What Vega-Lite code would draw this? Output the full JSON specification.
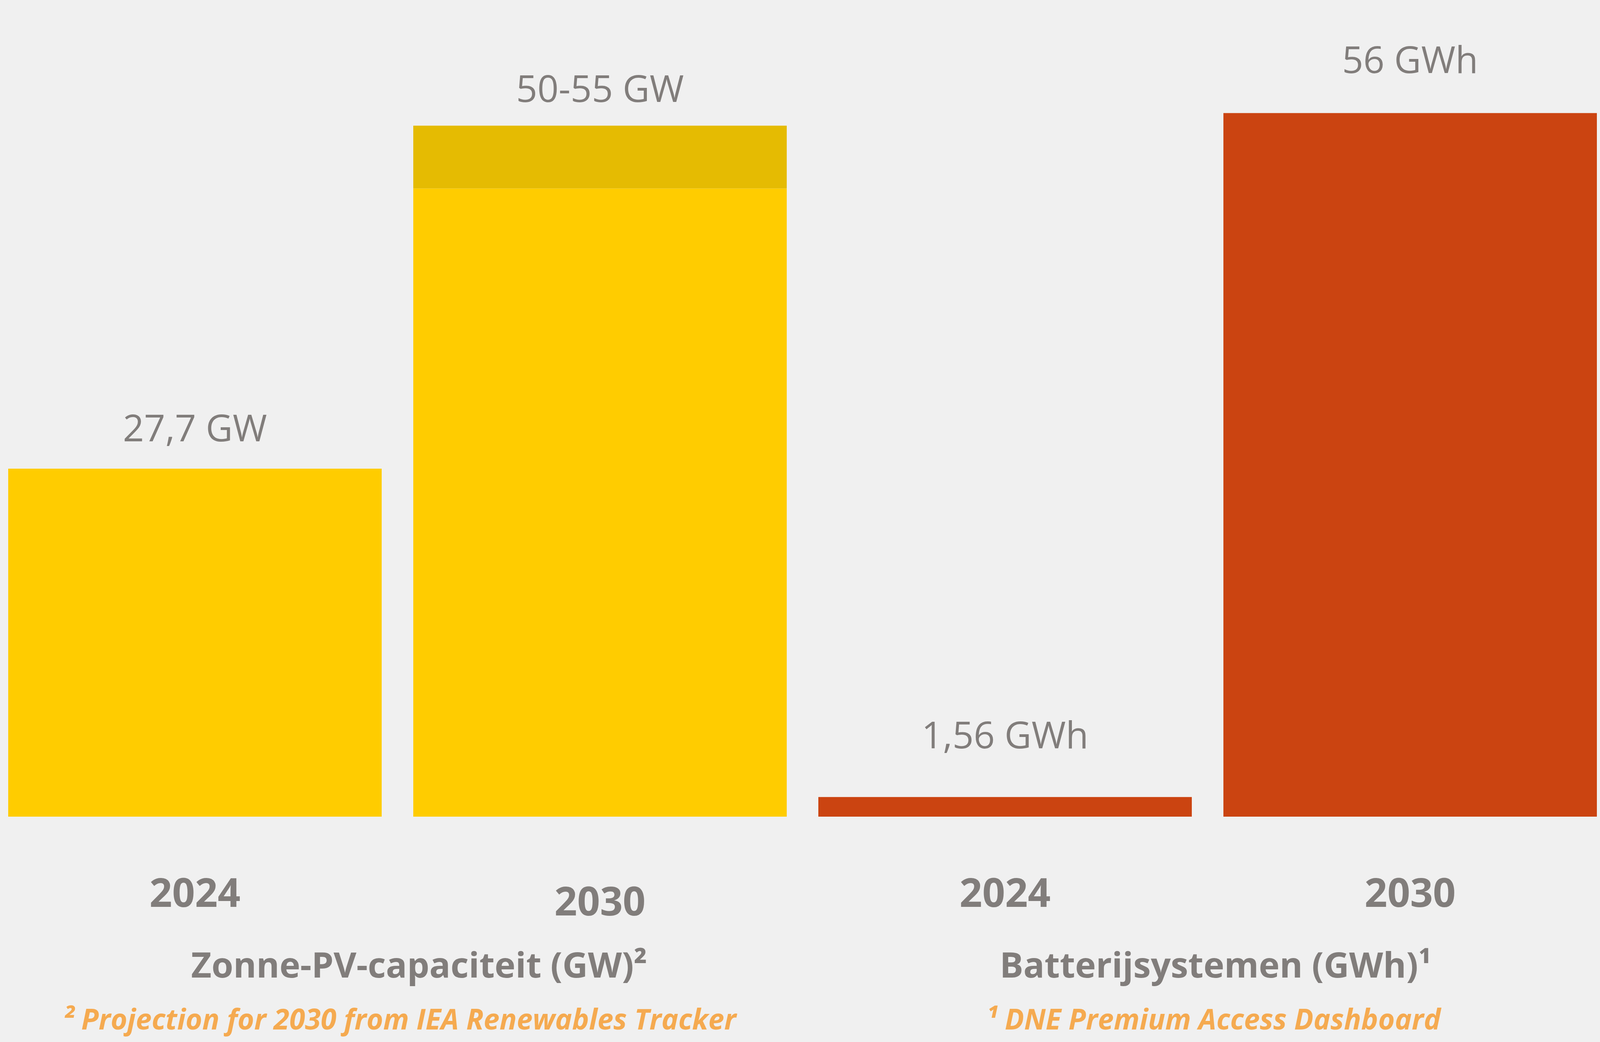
{
  "$schema": "https://vega.github.io/schema/vega-lite/v6.json",
  "width": 4067,
  "height": 2091,
  "autosize": {"type": "none"},
  "padding": {"left": 21, "top": 0, "right": 8, "bottom": 577},
  "background": "#F0F0F0",
  "config": {"view": {"stroke": null}},
  "data": {
    "values": [
      {"group": "PV", "key": "PV 2024", "year": "2024", "value": 27.7, "label": "27,7 GW"},
      {"group": "PV", "key": "PV 2030", "year": "2030", "value": 50, "high": 55, "label": "50-55 GW"},
      {"group": "Batt", "key": "B 2024", "year": "2024", "value": 1.56, "label": "1,56 GWh"},
      {"group": "Batt", "key": "B 2030", "year": "2030", "value": 56, "label": "56 GWh"}
    ]
  },
  "encoding": {
    "x": {
      "field": "key",
      "type": "nominal",
      "scale": {"domain": ["PV 2024", "PV 2030", "B 2024", "B 2030"], "paddingInner": 0.078, "paddingOuter": 0},
      "axis": null
    }
  },
  "layer": [
    {
      "mark": {"type": "bar"},
      "encoding": {
        "y": {"field": "value", "type": "quantitative", "scale": {"domain": [0, 63.3]}, "axis": null},
        "color": {"field": "group", "type": "nominal", "scale": {"domain": ["PV", "Batt"], "range": ["#FFCC00", "#CB4411"]}, "legend": null}
      }
    },
    {
      "transform": [{"filter": "isValid(datum.high)"}],
      "mark": {"type": "bar", "color": "#E5BB02"},
      "encoding": {
        "y": {"field": "value", "type": "quantitative"},
        "y2": {"field": "high"}
      }
    },
    {
      "transform": [{"filter": "datum.key == 'PV 2024'"}],
      "mark": {"type": "text", "font": "Open Sans", "fontSize": 95, "color": "#817D7B", "align": "center", "baseline": "alphabetic", "dy": -70},
      "encoding": {"y": {"field": "value", "type": "quantitative"}, "text": {"field": "label"}}
    },
    {
      "transform": [{"filter": "datum.key == 'PV 2030'"}],
      "mark": {"type": "text", "font": "Open Sans", "fontSize": 95, "color": "#817D7B", "align": "center", "baseline": "alphabetic", "dy": -61},
      "encoding": {"y": {"field": "high", "type": "quantitative"}, "text": {"field": "label"}}
    },
    {
      "transform": [{"filter": "datum.key == 'B 2024'"}],
      "mark": {"type": "text", "font": "Open Sans", "fontSize": 95, "color": "#817D7B", "align": "center", "baseline": "alphabetic", "dy": -125},
      "encoding": {"y": {"field": "value", "type": "quantitative"}, "text": {"field": "label"}}
    },
    {
      "transform": [{"filter": "datum.key == 'B 2030'"}],
      "mark": {"type": "text", "font": "Open Sans", "fontSize": 95, "color": "#817D7B", "align": "center", "baseline": "alphabetic", "dy": -103},
      "encoding": {"y": {"field": "value", "type": "quantitative"}, "text": {"field": "label"}}
    },
    {
      "transform": [{"filter": "datum.key != 'PV 2030'"}],
      "mark": {"type": "text", "font": "Open Sans", "fontSize": 102, "fontWeight": "bold", "color": "#817D7B", "align": "center", "baseline": "alphabetic", "dy": 231},
      "encoding": {"y": {"datum": 0, "type": "quantitative"}, "text": {"field": "year"}}
    },
    {
      "transform": [{"filter": "datum.key == 'PV 2030'"}],
      "mark": {"type": "text", "font": "Open Sans", "fontSize": 102, "fontWeight": "bold", "color": "#817D7B", "align": "center", "baseline": "alphabetic", "dy": 253},
      "encoding": {"y": {"datum": 0, "type": "quantitative"}, "text": {"field": "year"}}
    },
    {
      "data": {"values": [{"key": "PV 2030", "title": "Zonne-PV-capaciteit (GW)²"}]},
      "mark": {"type": "text", "font": "Open Sans", "fontSize": 90, "fontWeight": "bold", "color": "#817D7B", "align": "center", "baseline": "alphabetic", "dy": 412, "dx": 15},
      "encoding": {"x": {"field": "key", "type": "nominal", "bandPosition": 0}, "y": {"datum": 0, "type": "quantitative"}, "text": {"field": "title"}}
    },
    {
      "data": {"values": [{"key": "B 2030", "title": "Batterijsystemen (GWh)¹"}]},
      "mark": {"type": "text", "font": "Open Sans", "fontSize": 90, "fontWeight": "bold", "color": "#817D7B", "align": "center", "baseline": "alphabetic", "dy": 412, "dx": -20},
      "encoding": {"x": {"field": "key", "type": "nominal", "bandPosition": 0}, "y": {"datum": 0, "type": "quantitative"}, "text": {"field": "title"}}
    },
    {
      "data": {"values": [{"key": "PV 2030", "note": "² Projection for 2030 from IEA Renewables Tracker"}]},
      "mark": {"type": "text", "font": "Open Sans", "fontSize": 73, "fontWeight": "bold", "fontStyle": "italic", "color": "#F5AA50", "align": "center", "baseline": "alphabetic", "dy": 545, "dx": -35},
      "encoding": {"x": {"field": "key", "type": "nominal", "bandPosition": 0}, "y": {"datum": 0, "type": "quantitative"}, "text": {"field": "note"}}
    },
    {
      "data": {"values": [{"key": "B 2030", "note": "¹ DNE Premium Access Dashboard"}]},
      "mark": {"type": "text", "font": "Open Sans", "fontSize": 73, "fontWeight": "bold", "fontStyle": "italic", "color": "#F5AA50", "align": "center", "baseline": "alphabetic", "dy": 545, "dx": -25},
      "encoding": {"x": {"field": "key", "type": "nominal", "bandPosition": 0}, "y": {"datum": 0, "type": "quantitative"}, "text": {"field": "note"}}
    }
  ]
}
